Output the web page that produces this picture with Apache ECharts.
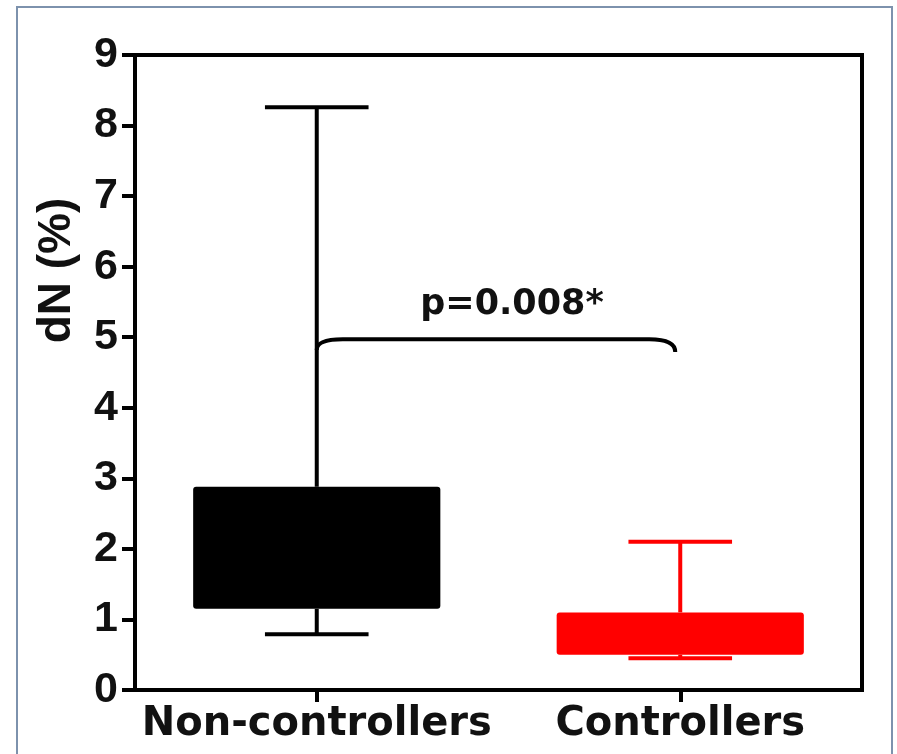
<!DOCTYPE html>
<html>
<head>
<meta charset="utf-8">
<script src="https://cdn.jsdelivr.net/npm/echarts@6/dist/echarts.min.js"></script>
<style>
  html, body { margin: 0; padding: 0; background: #fff; }
  #chart { width: 897px; height: 754px; }
</style>
</head>
<body>
<div id="chart"></div>
<script>
// groups on the x axis
var groups = ['Non-controllers', 'Controllers'];
// box values per group: [min, q1, median, q3, max]
var nonControllers = [0.79, 1.15, 1.9, 2.88, 8.26];
var controllers = [0.45, 0.50, 0.8, 1.10, 2.10];
var boxColors = ['#000000', '#ff0000'];
// significance bracket: left end, top, right end (dN %)
var bracket = [4.82, 4.97, 4.79];
var pLabel = 'p=0.008*';
var yTicks = [0, 9, 1];

var myChart = echarts.init(document.getElementById('chart'));

function renderBox(params, api) {
    var cat = api.value(0);
    var lo = api.coord([cat, api.value(1)]);
    var q1 = api.coord([cat, api.value(2)]);
    var q3 = api.coord([cat, api.value(4)]);
    var hi = api.coord([cat, api.value(5)]);
    var band = api.size([1, 0])[0];
    var boxW = band * 0.68;
    var capW = band * 0.285;
    var color = boxColors[params.dataIndex];
    var x = lo[0];
    var lineStyle = { stroke: color, lineWidth: 4, fill: null };
    return {
        type: 'group',
        children: [
            { type: 'line', shape: { x1: x, y1: hi[1], x2: x, y2: q3[1] }, style: lineStyle },
            { type: 'line', shape: { x1: x, y1: lo[1], x2: x, y2: q1[1] }, style: lineStyle },
            { type: 'line', shape: { x1: x - capW / 2, y1: hi[1], x2: x + capW / 2, y2: hi[1] }, style: lineStyle },
            { type: 'line', shape: { x1: x - capW / 2, y1: lo[1], x2: x + capW / 2, y2: lo[1] }, style: lineStyle },
            {
                type: 'rect',
                shape: { x: x - boxW / 2, y: q3[1], width: boxW, height: q1[1] - q3[1], r: 3 },
                style: { fill: color }
            }
        ]
    };
}

function renderBracket(params, api) {
    var left = api.coord([0, api.value(0)]);
    var top = api.coord([0, api.value(1)]);
    var right = api.coord([1, api.value(2)]);
    var x0 = left[0], x1 = right[0] - 5, yt = top[1];
    var r = 26;
    var d = 'M' + x0 + ' ' + left[1] +
        ' Q' + x0 + ' ' + yt + ' ' + (x0 + r) + ' ' + yt +
        ' L' + (x1 - r) + ' ' + yt +
        ' Q' + x1 + ' ' + yt + ' ' + x1 + ' ' + right[1];
    return {
        type: 'group',
        children: [
            {
                type: 'path',
                shape: { pathData: d },
                style: { stroke: '#000', lineWidth: 4, fill: null }
            },
            {
                type: 'text',
                style: {
                    text: pLabel,
                    x: (x0 + x1) / 2 + 16,
                    y: yt - 34,
                    align: 'center',
                    verticalAlign: 'middle',
                    font: 'bold 35px "DejaVu Sans"',
                    fill: '#111'
                }
            }
        ]
    };
}

var option = {
    animation: false,
    backgroundColor: '#fff',
    graphic: [{
        type: 'rect',
        shape: { x: 17, y: 7, width: 875, height: 780 },
        style: { fill: null, stroke: '#7d92ad', lineWidth: 2 },
        silent: true
    }],
    grid: {
        left: 135, right: 35, top: 55, bottom: 64,
        show: true, borderColor: '#000', borderWidth: 4
    },
    xAxis: {
        type: 'category',
        data: groups,
        axisLine: { lineStyle: { color: '#000', width: 4 } },
        axisTick: { show: true, alignWithLabel: true, interval: 0, length: 12, lineStyle: { color: '#000', width: 4 } },
        axisLabel: {
            interval: 0,
            hideOverlap: false,
            margin: 15,
            color: '#111',
            fontFamily: 'DejaVu Sans',
            fontWeight: 'bold',
            fontSize: 40
        },
        splitLine: { show: false }
    },
    yAxis: {
        type: 'value',
        min: yTicks[0],
        max: yTicks[1],
        interval: yTicks[2],
        name: 'dN (%)',
        nameLocation: 'middle',
        nameRotate: 90,
        nameGap: 55,
        nameTextStyle: {
            color: '#111',
            fontFamily: 'Liberation Sans',
            fontWeight: 'bold',
            fontSize: 46,
            padding: [0, 0, 0, 204]
        },
        axisLine: { show: true, lineStyle: { color: '#000', width: 4 } },
        axisTick: { show: true, length: 13, lineStyle: { color: '#000', width: 4 } },
        axisLabel: {
            margin: 17,
            color: '#111',
            fontFamily: 'Liberation Sans',
            fontWeight: 'bold',
            fontSize: 43,
            padding: [0, 0, 10, 0]
        },
        splitLine: { show: false }
    },
    series: [
        {
            type: 'custom',
            renderItem: renderBox,
            encode: { x: 0, y: [1, 2, 3, 4, 5] },
            data: [
                [0].concat(nonControllers),
                [1].concat(controllers)
            ]
        },
        {
            type: 'custom',
            renderItem: renderBracket,
            encode: { y: [0, 1, 2] },
            data: [bracket],
            z: 3
        }
    ]
};
myChart.setOption(option);
</script>
</body>
</html>
